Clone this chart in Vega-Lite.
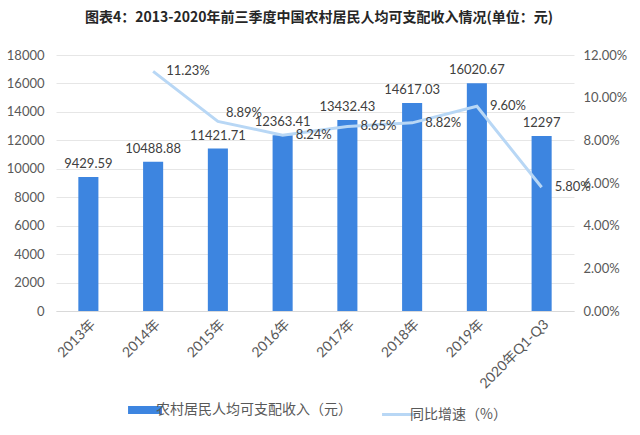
{
  "$schema": "https://vega.github.io/schema/vega-lite/v6.json",
  "width": 518,
  "height": 256,
  "autosize": {"type": "none"},
  "padding": {"left": 56, "top": 55, "right": 66, "bottom": 124},
  "background": "white",
  "title": {
    "text": "图表4：2013-2020年前三季度中国农村居民人均可支配收入情况(单位：元)",
    "font": "Noto Sans CJK SC",
    "fontSize": 14,
    "fontWeight": "bold",
    "color": "#262626",
    "anchor": "middle",
    "offset": 24,
    "dx": 4
  },
  "config": {
    "view": {"stroke": null},
    "font": "Lato, Noto Sans CJK SC",
    "axis": {"labelColor": "#595959", "labelFontSize": 13, "titleColor": "#595959"}
  },
  "data": {
    "values": [
      {"year": "2013年", "income": 9429.59, "rate": null},
      {"year": "2014年", "income": 10488.88, "rate": 0.1123},
      {"year": "2015年", "income": 11421.71, "rate": 0.0889},
      {"year": "2016年", "income": 12363.41, "rate": 0.0824},
      {"year": "2017年", "income": 13432.43, "rate": 0.0865},
      {"year": "2018年", "income": 14617.03, "rate": 0.0882},
      {"year": "2019年", "income": 16020.67, "rate": 0.096},
      {"year": "2020年Q1-Q3", "income": 12297, "rate": 0.058}
    ]
  },
  "encoding": {
    "x": {
      "field": "year",
      "type": "nominal",
      "sort": null,
      "scale": {"paddingInner": 0.69, "paddingOuter": 0.345},
      "axis": {
        "title": null,
        "labelAngle": -45,
        "labelFontSize": 14,
        "labelFont": "Lato, Noto Sans CJK SC",
        "ticks": false,
        "domainColor": "#d9d9d9",
        "labelPadding": 6
      }
    }
  },
  "layer": [
    {
      "encoding": {
        "y": {
          "field": "income",
          "type": "quantitative",
          "scale": {"domain": [0, 18000]},
          "axis": {
            "title": null,
            "values": [0, 2000, 4000, 6000, 8000, 10000, 12000, 14000, 16000, 18000],
            "format": "d",
            "labelOverlap": false,
            "domain": false,
            "ticks": false,
            "gridColor": "#e6e6e6",
            "labelPadding": 12
          }
        }
      },
      "layer": [
        {
          "mark": {"type": "bar"},
          "encoding": {
            "color": {
              "datum": "农村居民人均可支配收入（元）",
              "type": "nominal",
              "scale": {
                "domain": ["农村居民人均可支配收入（元）", "同比增速（%）"],
                "range": ["#3d85e0", "#b8d7f5"]
              },
              "legend": {
                "title": null,
                "orient": "none",
                "legendX": 82,
                "legendY": 348,
                "direction": "horizontal",
                "symbolType": "stroke",
                "symbolSize": 1150,
                "labelFont": "Noto Sans CJK SC",
                "labelFontSize": 14,
                "labelColor": "#595959",
                "labelLimit": 300,
                "labelOffset": 4,
                "columnPadding": 24,
                "encode": {
                  "symbols": {
                    "update": {
                      "stroke": {"scale": "color", "field": "value"},
                      "strokeWidth": {"signal": "datum.value === '同比增速（%）' ? 3 : 8"}
                    }
                  }
                }
              }
            }
          }
        },
        {
          "mark": {"type": "text", "baseline": "bottom", "dy": -6, "fontSize": 13, "color": "#404040", "font": "Lato"},
          "encoding": {
            "text": {"field": "income", "type": "nominal"}
          }
        }
      ]
    },
    {
      "encoding": {
        "y": {
          "field": "rate",
          "type": "quantitative",
          "scale": {"domain": [0, 0.12]},
          "axis": {
            "title": null,
            "orient": "right",
            "format": ".2%",
            "values": [0, 0.02, 0.04, 0.06, 0.08, 0.1, 0.12],
            "labelOverlap": false,
            "grid": false,
            "domain": false,
            "ticks": false,
            "labelPadding": 9
          }
        }
      },
      "layer": [
        {
          "mark": {"type": "line", "strokeWidth": 3},
          "encoding": {
            "color": {"datum": "同比增速（%）", "type": "nominal"}
          }
        },
        {
          "transform": [{"filter": "datum.rate != null && datum.year != '2015年'"}],
          "mark": {"type": "text", "align": "left", "dx": 13, "fontSize": 13, "color": "#404040", "font": "Lato"},
          "encoding": {
            "text": {"field": "rate", "type": "quantitative", "format": ".2%"}
          }
        },
        {
          "transform": [{"filter": "datum.year == '2015年'"}],
          "mark": {"type": "text", "align": "left", "dx": 8, "dy": -8, "fontSize": 13, "color": "#404040", "font": "Lato"},
          "encoding": {
            "text": {"field": "rate", "type": "quantitative", "format": ".2%"}
          }
        }
      ]
    }
  ],
  "resolve": {"scale": {"y": "independent"}}
}
